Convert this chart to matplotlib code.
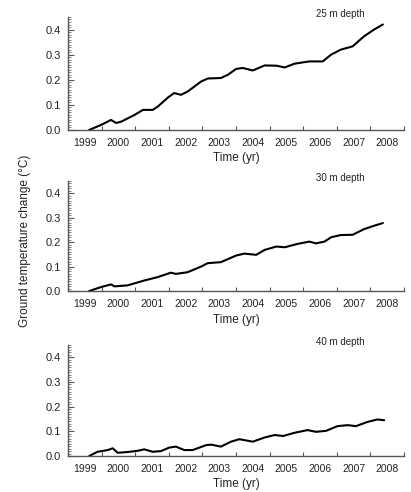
import matplotlib

matplotlib.use("Agg")
import matplotlib.pyplot as plt
from matplotlib.ticker import FixedLocator, MultipleLocator, NullFormatter

plt.rcParams["font.family"] = ["Liberation Sans", "DejaVu Sans"]

# decimal year / temperature change (degC)
year_25 = [1999.63, 1999.98, 2000.28, 2000.43, 2000.58, 2000.98, 2001.23, 2001.52,
           2001.67, 2001.98, 2002.16, 2002.36, 2002.56, 2002.96, 2003.16, 2003.55,
           2003.76, 2004.0, 2004.2, 2004.5, 2004.85, 2005.2, 2005.45, 2005.74,
           2006.18, 2006.58, 2006.83, 2007.12, 2007.47, 2007.81, 2008.11, 2008.37]
temp_25 = [0.0, 0.02, 0.04, 0.028, 0.033, 0.06, 0.08, 0.08,
           0.093, 0.13, 0.147, 0.14, 0.153, 0.193, 0.205, 0.207,
           0.22, 0.243, 0.247, 0.237, 0.257, 0.256, 0.249, 0.264,
           0.273, 0.273, 0.30, 0.32, 0.333, 0.373, 0.40, 0.42]

year_30 = [1999.63, 1999.98, 2000.28, 2000.38, 2000.77, 2001.27, 2001.67, 2002.06,
           2002.21, 2002.56, 2002.96, 2003.16, 2003.55, 2004.0, 2004.25, 2004.6,
           2004.85, 2005.2, 2005.45, 2005.84, 2006.18, 2006.38, 2006.63, 2006.83,
           2007.12, 2007.47, 2007.81, 2008.11, 2008.37]
temp_30 = [0.0, 0.016, 0.027, 0.019, 0.023, 0.043, 0.057, 0.075,
           0.07, 0.077, 0.10, 0.114, 0.118, 0.145, 0.153, 0.148,
           0.168, 0.182, 0.179, 0.193, 0.202, 0.195, 0.202, 0.22,
           0.229, 0.23, 0.253, 0.267, 0.278]

year_40 = [1999.63, 1999.88, 2000.18, 2000.33, 2000.48, 2000.77, 2001.07, 2001.27,
           2001.52, 2001.77, 2002.01, 2002.21, 2002.46, 2002.71, 2003.11, 2003.26,
           2003.55, 2003.85, 2004.1, 2004.5, 2004.85, 2005.15, 2005.4, 2005.74,
           2006.13, 2006.38, 2006.68, 2007.02, 2007.32, 2007.57, 2007.91, 2008.21,
           2008.41]
temp_40 = [0.0, 0.017, 0.024, 0.031, 0.013, 0.016, 0.021, 0.027,
           0.017, 0.02, 0.034, 0.038, 0.024, 0.024, 0.044, 0.046,
           0.038, 0.058, 0.068, 0.058, 0.075, 0.085, 0.081, 0.094,
           0.105, 0.098, 0.102, 0.121, 0.125, 0.121, 0.138, 0.148,
           0.145]

depth_labels = ["25 m depth", "30 m depth", "40 m depth"]
year_labels = [str(y) for y in range(1999, 2009)]

panels = [
    (year_25, temp_25, depth_labels[0], [0.1655, 0.7358, 0.8175, 0.2297]),
    (year_30, temp_30, depth_labels[1], [0.1655, 0.4085, 0.8175, 0.2236]),
    (year_40, temp_40, depth_labels[2], [0.1655, 0.0732, 0.8175, 0.2256]),
]

fig = plt.figure(figsize=(4.11, 4.92), dpi=100)
axis_col = "#555555"
text_col = "#222222"

for years, temps, label, rect in panels:
    ax = fig.add_axes(rect)
    ax.plot(years, temps, color="black", linewidth=1.5, solid_capstyle="round",
            solid_joinstyle="round")
    ax.set_xlim(1999, 2009)
    ax.set_ylim(0, 0.45)

    # year boundaries get tick marks, labels sit mid-year
    ax.xaxis.set_major_locator(FixedLocator(list(range(1999, 2010))))
    ax.xaxis.set_major_formatter(NullFormatter())
    ax.xaxis.set_minor_locator(FixedLocator([y + 0.5 for y in range(1999, 2009)]))
    ax.set_xticklabels(year_labels, minor=True)
    ax.tick_params(axis="x", which="major", direction="in", length=3,
                   width=0.8, color=axis_col)
    ax.tick_params(axis="x", which="minor", length=0, pad=6,
                   labelsize=7.5, labelcolor=text_col)

    ax.yaxis.set_major_locator(MultipleLocator(0.1))
    ax.yaxis.set_minor_locator(MultipleLocator(0.01))
    ax.yaxis.set_major_formatter(lambda v, p: f"{v:.1f}")
    ax.tick_params(axis="y", which="major", direction="in", length=4,
                   width=0.8, color=axis_col, labelsize=8, labelcolor=text_col,
                   pad=5)
    ax.tick_params(axis="y", which="minor", direction="in", length=2,
                   width=0.5, color=axis_col)

    for side in ("top", "right"):
        ax.spines[side].set_visible(False)
    for side in ("left", "bottom"):
        ax.spines[side].set_color(axis_col)
        ax.spines[side].set_linewidth(1.0)

    ax.set_xlabel("Time (yr)", fontsize=8.5, color=text_col, labelpad=3)
    ax.text(0.81, 1.03, label, transform=ax.transAxes, ha="center",
            va="center", fontsize=7, color=text_col)

fig.text(0.06, 0.51, "Ground temperature change (\u00b0C)", rotation=90,
         ha="center", va="center", fontsize=8.5, color=text_col)

fig.savefig("out.png", dpi=100)
